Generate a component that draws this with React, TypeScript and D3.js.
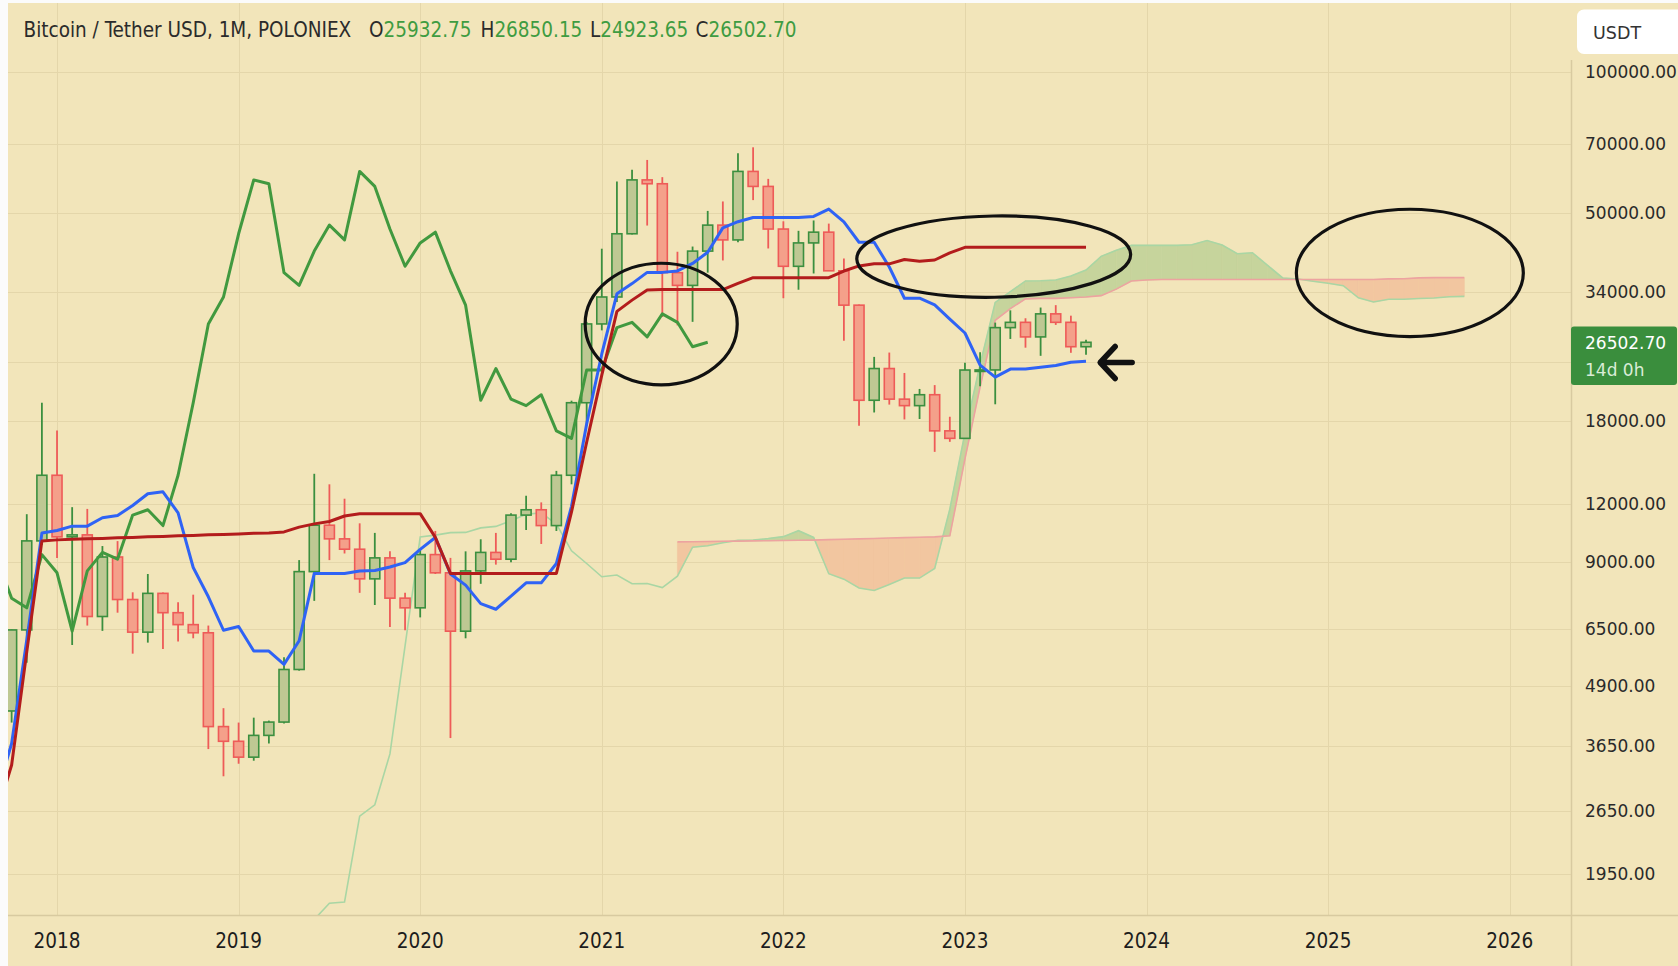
import { useEffect, useRef } from 'react';
import * as d3 from 'd3';

const W = 1678;
const H = 966;

// month index: 0 = Jan 2018. Monthly candles Oct 2017 .. Sep 2023
const firstMonth = -3;
const opens = [
  4340, 6460, 10000,
  13800, 10200, 10300, 6900, 9240, 7500, 6390, 7730, 7030, 6630, 6370, 4020,
  3740, 3460, 3850, 4110, 5320, 8600, 10800, 10100, 9600, 8300, 9200, 7550,
  7200, 9350, 8550, 6420, 8630, 9450, 9140, 11350, 11650, 10780, 13800, 19700,
  29000, 33100, 45140, 58800, 57700, 37300, 35040, 41460, 47100, 43800, 61300, 56950,
  46200, 38480, 43160, 45500, 37640, 31800, 19940, 23300, 20050, 19420, 20490, 17160,
  16540, 23130, 23140, 28480, 29230, 27210, 30470, 29230, 25932.75,
];
const highs = [
  6470, 11400, 19700,
  17200, 11800, 11700, 9750, 9990, 7770, 8500, 7760, 7400, 7680, 6600, 4400,
  4100, 4200, 4140, 5650, 9100, 13900, 13200, 12300, 10900, 10400, 9500, 7750,
  9600, 10500, 9200, 9500, 10080, 10400, 11450, 12480, 12080, 14100, 19900, 29300,
  41950, 58350, 61800, 64850, 59600, 41330, 42400, 50500, 52900, 67000, 69000, 59100,
  47990, 45800, 48190, 47450, 40000, 31900, 24670, 25200, 22800, 21080, 21480, 18390,
  23960, 25250, 29190, 31000, 29820, 31430, 31800, 30200, 26850.15,
];
const lows = [
  4100, 5500, 9800,
  9200, 6000, 6600, 6430, 7030, 5750, 6070, 5880, 6100, 6200, 3600, 3150,
  3350, 3400, 3700, 4080, 5290, 7450, 9100, 9400, 7750, 7300, 6550, 6450,
  6870, 8500, 3800, 6200, 8100, 8900, 9000, 10550, 9850, 10500, 13200, 17600,
  28100, 32300, 45000, 47000, 30000, 28800, 29300, 37300, 39600, 43300, 53250, 42000,
  32900, 34300, 37150, 37700, 26700, 17600, 18780, 19520, 18150, 18190, 15480, 16260,
  16500, 21350, 19550, 26940, 25810, 24800, 28860, 25170, 24923.65,
];
const closes = [
  6460, 10000, 13800,
  10200, 10300, 6900, 9240, 7500, 6390, 7730, 7030, 6630, 6370, 4020, 3740,
  3460, 3850, 4110, 5320, 8600, 10800, 10100, 9600, 8300, 9200, 7550, 7200,
  9350, 8550, 6420, 8630, 9450, 9140, 11350, 11650, 10780, 13800, 19700, 29000,
  33100, 45140, 58800, 57700, 37300, 35040, 41460, 47100, 43800, 61300, 56950, 46200,
  38480, 43160, 45500, 37640, 31800, 19940, 23300, 20050, 19420, 20490, 17160, 16540,
  23130, 23140, 28480, 29230, 27210, 30470, 29230, 25932.75, 26502.7,
];

// ichimoku conversion / base lines, from month -4
const lineStart = -4;
const tenkan = [
  2875, 3700, 6150, 10390,
  10525, 10750, 10750, 11200, 11325, 11900, 12600, 12725, 11475, 8775, 7600, 6450,
  6570, 5825, 5825, 5455, 6125, 8525, 8525, 8525, 8625, 8645, 8800, 8990,
  9595, 10165, 8500, 8050, 7350, 7150, 7625, 8140, 8140, 8950, 11850, 17750,
  25025, 33625, 35350, 37350, 37350, 37615, 39025, 41225, 46475, 47900, 48900, 48900,
  48900, 48900, 49150, 50950, 47850, 43300, 43300, 38350, 32900, 32900, 31835, 29700,
  27740, 23690, 22335, 23240, 23240, 23455, 23640, 24030, 24150,
];
const kijun = [
  2600, 3330, 5800, 10000,
  10050, 10080, 10100, 10120, 10150, 10170, 10200, 10220, 10250, 10270, 10300, 10320,
  10350, 10380, 10400, 10450, 10700, 10870, 11000, 11300, 11420, 11430, 11430, 11430,
  11430, 10175, 8525, 8525, 8525, 8525, 8525, 8525, 8525, 8525, 11525, 16225,
  22550, 30850, 32595, 34275, 34325, 34325, 34325, 34325, 34325, 35400, 36400, 36400,
  36400, 36400, 36400, 36400, 37600, 38550, 38950, 38950, 39775, 39425, 39690, 41100,
  42240, 42240, 42240, 42240, 42240, 42240, 42240, 42240, 42240,
];

// leading spans, already shifted forward
const spanAStart = 17;
const spanA = [
  1560, 1690, 1700, 2590,
  2738, 3515, 5975, 10195, 10288, 10415, 10425, 10660, 10738, 11035, 11400, 11473,
  10863, 9523, 8950, 8385, 8460, 8103, 8113, 7953, 8413, 9698, 9763, 9913,
  10023, 10038, 10115, 10210, 10513, 10170, 8513, 8288, 7938, 7838, 8075, 8333,
  8333, 8738, 11688, 16988, 23788, 32238, 33973, 35813, 35838, 35970, 36675, 37775,
  40400, 41650, 42650, 42650, 42650, 42650, 42775, 43675, 42725, 40925, 41125, 38650,
  36338, 36163, 35763, 35400, 34990, 32965, 32288, 32740, 32740, 32848, 32940, 33135, 33195,
];
const spanBStart = 41;
const spanB = [
  9950, 9960, 9970, 9980, 9990, 10000, 10010, 10020, 10030, 10040, 10060, 10080,
  10100, 10120, 10140, 10160, 10180, 10200, 10250, 14950, 21275, 29525, 31275, 32800,
  32870, 32870, 32965, 33100, 33325, 34400, 35800, 35975,
  36075, 36075, 36075, 36075, 36075, 36075, 36075, 36075, 36075, 36075, 36075, 36075,
  36075, 36075, 36075, 36175, 36195, 36350, 36400, 36400, 36400,
];
const chikouShift = 25;

const yearLabels = ['2018', '2019', '2020', '2021', '2022', '2023', '2024', '2025', '2026'];
const priceTicks = [100000, 70000, 50000, 34000, 24000, 18000, 12000, 9000, 6500, 4900, 3650, 2650, 1950];
const unlabeled = [24000];

// hand drawn marks, in months / price
const ellipses = [
  { m0: 34.9, m1: 44.95, top: 39060, bottom: 21500, rot: 0 },
  { m0: 52.85, m1: 70.95, top: 49260, bottom: 33060, rot: -1 },
  { m0: 81.9, m1: 96.9, top: 50910, bottom: 27250, rot: 0 },
];
const arrowMark = { tip: 68.87, tail: 71.05, price: 24000 };

const ohlc = [
  { k: 'O', v: '25932.75', x: 369 },
  { k: 'H', v: '26850.15', x: 480.5 },
  { k: 'L', v: '24923.65', x: 590 },
  { k: 'C', v: '26502.70', x: 695.6 },
];

export default function App() {
  const svgRef = useRef<SVGSVGElement>(null);

  useEffect(() => {
    document.body.style.margin = '0';
    const svg = d3.select(svgRef.current);
    svg.selectAll('*').remove();

    const bg = '#f2e5ba';
    const grid = '#e4d6aa';
    const plotL = 8, plotR = 1571, plotT = 3, plotB = 915;

    const x = d3.scaleLinear().domain([-3.24, 100.05]).range([plotL, plotR]);
    const y = d3.scaleLog().domain([1950, 100000]).range([874, 71.7]);

    svg.append('rect').attr('width', W).attr('height', H).attr('fill', '#fbfbfb');
    svg.append('rect').attr('x', plotL).attr('y', plotT).attr('width', W - plotL).attr('height', H - plotT).attr('fill', bg);

    svg.append('defs').append('clipPath').attr('id', 'plot-clip')
      .append('rect').attr('x', plotL).attr('y', plotT).attr('width', plotR - plotL).attr('height', plotB - plotT);

    // grid
    const gridG = svg.append('g');
    gridG.selectAll('line.h').data(priceTicks).join('line')
      .attr('x1', plotL).attr('x2', plotR)
      .attr('y1', d => Math.round(y(d)) + 0.5).attr('y2', d => Math.round(y(d)) + 0.5)
      .attr('stroke', grid).attr('stroke-width', 1);
    gridG.selectAll('line.v').data(yearLabels).join('line')
      .attr('x1', (_, i) => Math.round(x(i * 12)) + 0.5).attr('x2', (_, i) => Math.round(x(i * 12)) + 0.5)
      .attr('y1', plotT).attr('y2', plotB)
      .attr('stroke', grid).attr('stroke-width', 1);

    const g = svg.append('g').attr('clip-path', 'url(#plot-clip)');

    // cloud
    const green = '#c6d49c';
    const red = '#f2c6a0';
    const aAt = (p: number) => spanA[p - spanAStart];
    const cloudG = g.append('g');
    for (let i = 0; i < spanB.length - 1; i++) {
      const p = spanBStart + i;
      const x0 = x(p), x1 = x(p + 1);
      const a0 = y(aAt(p)), a1 = y(aAt(p + 1));
      const b0 = y(spanB[i]), b1 = y(spanB[i + 1]);
      const d0 = b0 - a0, d1 = b1 - a1;
      const polys: [number[][], string][] = [];
      if (d0 * d1 >= 0) {
        polys.push([[[x0, a0], [x1, a1], [x1, b1], [x0, b0]], d0 + d1 > 0 ? green : red]);
      } else {
        const t = d0 / (d0 - d1);
        const xc = x0 + t * (x1 - x0);
        const yc = a0 + t * (a1 - a0);
        polys.push([[[x0, a0], [xc, yc], [x0, b0]], d0 > 0 ? green : red]);
        polys.push([[[xc, yc], [x1, a1], [x1, b1]], d1 > 0 ? green : red]);
      }
      polys.forEach(([pts, c]) => {
        cloudG.append('polygon')
          .attr('points', pts.map(q => q.join(',')).join(' '))
          .attr('fill', c).attr('stroke', c).attr('stroke-width', 0.6);
      });
    }

    const line = (start: number) => d3.line<number>().x((_, i) => x(start + i)).y(v => y(v));

    g.append('path').attr('d', line(spanAStart)(spanA)!)
      .attr('fill', 'none').attr('stroke', '#a9d6a4').attr('stroke-width', 1.6);
    g.append('path').attr('d', line(spanBStart)(spanB)!)
      .attr('fill', 'none').attr('stroke', '#eda3a0').attr('stroke-width', 1.6);

    // candles
    const candles = opens.map((o, i) => ({
      m: firstMonth + i, o, h: highs[i], l: lows[i], c: closes[i],
    }));
    const up = (d: { o: number; c: number }) => d.c >= d.o;
    const cg = g.append('g');
    cg.selectAll('line').data(candles).join('line')
      .attr('x1', d => x(d.m)).attr('x2', d => x(d.m))
      .attr('y1', d => y(d.h)).attr('y2', d => y(d.l))
      .attr('stroke', d => (up(d) ? '#3b8f3f' : '#ee5b58'))
      .attr('stroke-width', 1.8);
    const bw = 10;
    cg.selectAll('rect').data(candles).join('rect')
      .attr('x', d => x(d.m) - bw / 2)
      .attr('width', bw)
      .attr('y', d => y(Math.max(d.o, d.c)))
      .attr('height', d => Math.max(1.5, Math.abs(y(d.o) - y(d.c))))
      .attr('fill', d => (up(d) ? '#bec893' : '#f4a08a'))
      .attr('stroke', d => (up(d) ? '#3b8f3f' : '#ee5b58'))
      .attr('stroke-width', 1.6);

    // lagging span
    g.append('path')
      .attr('d', d3.line<number>().x((_, i) => x(firstMonth + i - chikouShift)).y(v => y(v))(closes)!)
      .attr('fill', 'none').attr('stroke', '#41993f').attr('stroke-width', 3).attr('stroke-linejoin', 'round');

    g.append('path').attr('d', line(lineStart)(tenkan)!)
      .attr('fill', 'none').attr('stroke', '#2f63f5').attr('stroke-width', 3).attr('stroke-linejoin', 'round');
    g.append('path').attr('d', line(lineStart)(kijun)!)
      .attr('fill', 'none').attr('stroke', '#b31c1c').attr('stroke-width', 3).attr('stroke-linejoin', 'round');

    // hand drawn ellipses and arrow
    ellipses.forEach(e => {
      const cx = (x(e.m0) + x(e.m1)) / 2;
      const cy = (y(e.top) + y(e.bottom)) / 2;
      svg.append('ellipse')
        .attr('cx', cx).attr('cy', cy)
        .attr('rx', (x(e.m1) - x(e.m0)) / 2)
        .attr('ry', (y(e.bottom) - y(e.top)) / 2)
        .attr('transform', `rotate(${e.rot},${cx},${cy})`)
        .attr('fill', 'none').attr('stroke', '#111').attr('stroke-width', 3.2);
    });
    const ax = x(arrowMark.tip), ay = y(arrowMark.price);
    svg.append('path')
      .attr('d', `M${x(arrowMark.tail)},${ay}H${ax + 2}M${ax + 16},${ay - 16}L${ax + 1},${ay}L${ax + 16},${ay + 16}`)
      .attr('fill', 'none').attr('stroke', '#111').attr('stroke-width', 5.5)
      .attr('stroke-linecap', 'round').attr('stroke-linejoin', 'round');

    // axes frame
    svg.append('line').attr('x1', plotL).attr('x2', W).attr('y1', plotB + 0.5).attr('y2', plotB + 0.5)
      .attr('stroke', '#d8caa0').attr('stroke-width', 1.5);
    svg.append('line').attr('x1', plotR + 0.5).attr('x2', plotR + 0.5).attr('y1', 60).attr('y2', H)
      .attr('stroke', '#d8caa0').attr('stroke-width', 1.5);

    const condensed = "'DejaVu Sans Condensed', 'DejaVu Sans', sans-serif";
    const sans = "'DejaVu Sans', Verdana, sans-serif";

    // x labels
    svg.append('g').selectAll('text').data(yearLabels).join('text')
      .attr('x', (_, i) => x(i * 12)).attr('y', 948)
      .attr('text-anchor', 'middle')
      .attr('font-family', condensed).attr('font-stretch', 'condensed')
      .attr('font-size', 20.5).attr('fill', '#1d1d1d')
      .text(d => d);

    // y labels
    svg.append('g').selectAll('text').data(priceTicks.filter(t => !unlabeled.includes(t))).join('text')
      .attr('x', 1585).attr('y', d => y(d))
      .attr('dominant-baseline', 'central')
      .attr('font-family', sans).attr('font-size', 17).attr('fill', '#2a2a2a')
      .text(d => d3.format('.2f')(d));

    // last price tag
    const last = closes[closes.length - 1];
    const py = y(last);
    svg.append('rect').attr('x', plotR).attr('y', py - 15.7).attr('width', 106).attr('height', 58.3)
      .attr('rx', 3).attr('fill', '#3a8e3d');
    svg.append('text').attr('x', 1585).attr('y', py + 7)
      .attr('font-family', sans).attr('font-size', 17).attr('fill', '#ffffff')
      .text(d3.format('.2f')(last));
    svg.append('text').attr('x', 1585).attr('y', py + 33.5)
      .attr('font-family', sans).attr('font-size', 17).attr('fill', '#d9ecd6')
      .text('14d 0h');

    // currency box
    svg.append('rect').attr('x', 1577).attr('y', 9.5).attr('width', 120).attr('height', 44.5)
      .attr('rx', 7).attr('fill', '#ffffff');
    svg.append('text').attr('x', 1593).attr('y', 39)
      .attr('font-family', sans).attr('font-size', 17.5).attr('fill', '#333')
      .text('USDT');

    // legend / title
    const title = svg.append('text').attr('y', 37.3)
      .attr('font-family', condensed).attr('font-stretch', 'condensed').attr('font-size', 20.5);
    title.append('tspan').attr('x', 23.5).attr('fill', '#2b2b2b').text('Bitcoin / Tether USD, 1M, POLONIEX');
    ohlc.forEach(o => {
      title.append('tspan').attr('x', o.x).attr('fill', '#2b2b2b').text(o.k);
      title.append('tspan').attr('fill', '#3f9c41').text(o.v);
    });
  }, []);

  return <svg ref={svgRef} width={W} height={H} style={{ display: 'block' }} />;
}
